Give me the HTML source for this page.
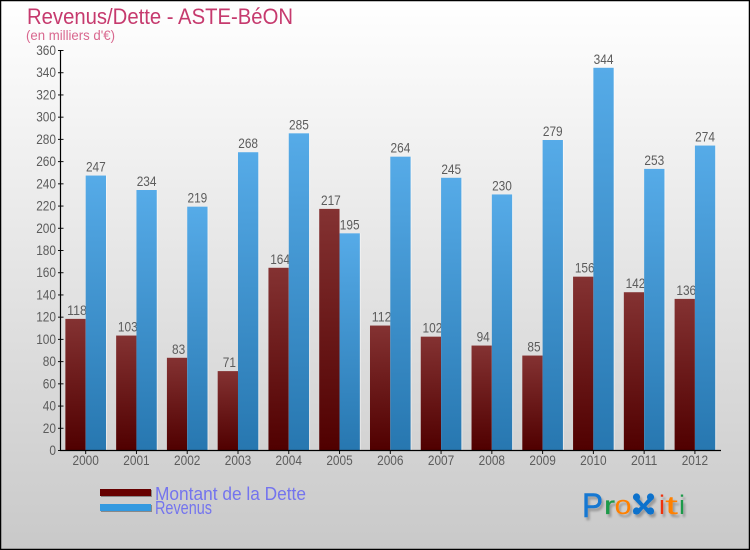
<!DOCTYPE html>
<html>
<head>
<meta charset="utf-8">
<title>Revenus/Dette - ASTE-BéON</title>
<style>
html,body{margin:0;padding:0;background:#fff}
svg{display:block;font-family:"Liberation Sans","DejaVu Sans",sans-serif}
</style>
</head>
<body>
<svg id="chart" xmlns="http://www.w3.org/2000/svg" width="750" height="550" viewBox="0 0 750 550">
  <defs>
    <linearGradient id="bg" x1="0" y1="0" x2="0" y2="1"><stop offset="0" stop-color="#ffffff"/><stop offset="1" stop-color="#c9c9c9"/></linearGradient>
    <linearGradient id="debtGrad" x1="0" y1="0" x2="0" y2="1"><stop offset="0" stop-color="#843232"/><stop offset="1" stop-color="#500000"/></linearGradient>
    <linearGradient id="revGrad" x1="0" y1="0" x2="0" y2="1"><stop offset="0" stop-color="#56abe8"/><stop offset="1" stop-color="#2777b0"/></linearGradient>
    <filter id="logoShadow" x="-10%" y="-10%" width="125%" height="130%"><feDropShadow dx="2" dy="3" stdDeviation="1" flood-color="#000" flood-opacity=".25"/></filter>
  </defs>
  <rect x="0.5" y="0.5" width="749" height="549" fill="url(#bg)" stroke="#000" stroke-width="1.5"/>
  <text x="27" y="24" font-size="22.5" fill="#c63a6e" textLength="266" lengthAdjust="spacingAndGlyphs">Revenus/Dette - ASTE-BéON</text>
  <text x="26" y="40" font-size="14" fill="#d9688f" textLength="89" lengthAdjust="spacingAndGlyphs">(en milliers d'€)</text>
  <g id="plot"></g>
  <g>
    <g>
      <rect x="101" y="490" width="51" height="7" fill="#888"/>
      <rect x="100" y="489" width="51" height="7" fill="#660000"/>
      <text x="155" y="500" font-size="18" fill="#7474ee" textLength="151" lengthAdjust="spacingAndGlyphs">Montant de la Dette</text>
    </g>
    <g>
      <rect x="101" y="505" width="51" height="7" fill="#888"/>
      <rect x="100" y="504" width="51" height="7" fill="#3399e0"/>
      <text x="155" y="514" font-size="18" fill="#7474ee" textLength="57" lengthAdjust="spacingAndGlyphs">Revenus</text>
    </g>
  </g>
  <g filter="url(#logoShadow)">
    <text x="582" y="517" font-size="34" fill="#1478d2" stroke="#1478d2" stroke-width=".5" textLength="21" lengthAdjust="spacingAndGlyphs">P</text>
    <text x="604" y="514" font-size="25" fill="#1f9a4a" stroke="#1f9a4a" stroke-width=".3" textLength="11" lengthAdjust="spacingAndGlyphs">r</text>
    <text x="614.5" y="514" font-size="27" fill="#ff8000" textLength="17" lengthAdjust="spacingAndGlyphs">o</text>
    <text x="633" y="514" font-size="29" font-weight="bold" fill="#1072cc" textLength="21" lengthAdjust="spacingAndGlyphs">x</text>
    <circle cx="636.5" cy="497" r="3.6" fill="#1072cc"/>
    <circle cx="650.5" cy="497" r="3.6" fill="#1072cc"/>
    <circle cx="636.5" cy="511" r="3.6" fill="#1072cc"/>
    <circle cx="650.5" cy="511" r="3.6" fill="#1072cc"/>
    <text x="659" y="514" font-size="27" fill="#ee3311" textLength="6" lengthAdjust="spacingAndGlyphs">i</text>
    <text x="665" y="514" font-size="26" fill="#ff8000" textLength="13" lengthAdjust="spacingAndGlyphs">t</text>
    <text x="679" y="514" font-size="27" fill="#1f9a4a" textLength="6" lengthAdjust="spacingAndGlyphs">i</text>
  </g>
</svg>
<script>
const categories = ["2000","2001","2002","2003","2004","2005","2006","2007","2008","2009","2010","2011","2012"];
const debtValues = [118,103,83,71,164,217,112,102,94,85,156,142,136];
const revenueValues = [247,234,219,268,285,195,264,245,230,279,344,253,274];
const yTickLabels = [0,20,40,60,80,100,120,140,160,180,200,220,240,260,280,300,320,340,360];

const plot = document.getElementById('plot');
const NS = 'http://www.w3.org/2000/svg';
const left = 60.3, right = 720.3, bottom = 450, top_ = 50, yMax = 360;
const step = (right - left) / categories.length;
const barW = step * 0.4;
const y = v => bottom - (v / yMax) * (bottom - top_);
const xCenter = i => left + step * (i + 0.5);

function mk(tag, props, text) {
  const e = document.createElementNS(NS, tag);
  for (const k in props) e.setAttribute(k, props[k]);
  if (text !== undefined) e.textContent = text;
  plot.appendChild(e);
  return e;
}
function digitLabel(x, yy, s, anchor) {
  return mk('text', {x: x, y: yy, 'font-size': 14, fill: '#5c5c5c', 'text-anchor': anchor,
    textLength: s.length * 6.6, lengthAdjust: 'spacingAndGlyphs'}, s);
}

yTickLabels.forEach(t => {
  const tick = mk('line', {x1: 58, x2: 63.5, y1: y(t) + 0.5, y2: y(t) + 0.5, stroke: '#111', 'stroke-width': 1});
  
  
  const lab = digitLabel(56, y(t) + 5, String(t), 'end');
  
  
});

categories.forEach((c, i) => {
  const cx = xCenter(i);
  const v = debtValues[i];
  const bar = mk('rect', {x: cx - barW, y: y(v), width: barW, height: bottom - y(v), fill: 'url(#debtGrad)'});
  
  
  const lab = digitLabel(cx - barW / 2 + 1.5, y(v) - 4, String(v), 'middle');
  
  
});

categories.forEach((c, i) => {
  const cx = xCenter(i);
  const v = revenueValues[i];
  const edge = mk('rect', {x: cx, y: y(v), width: barW + 1, height: bottom - y(v), fill: '#ffffff', opacity: 0.45});
  
  
  const bar = mk('rect', {x: cx, y: y(v), width: barW, height: bottom - y(v), fill: 'url(#revGrad)'});
  
  
  const lab = digitLabel(cx + barW / 2, y(v) - 4, String(v), 'middle');
  
  
  const tick = mk('line', {x1: cx, x2: cx, y1: bottom, y2: bottom + 4, stroke: '#111', 'stroke-width': 1});
  
  
  const xl = digitLabel(cx, 465, c, 'middle');
  
  
});

const yAxis = mk('line', {x1: 60.5, x2: 60.5, y1: top_, y2: bottom + 1, stroke: '#000', 'stroke-width': 1.2});


const xAxis = mk('line', {x1: 60, x2: 721, y1: bottom + 0.5, y2: bottom + 0.5, stroke: '#000', 'stroke-width': 1.2});


</script>
</body>
</html>
